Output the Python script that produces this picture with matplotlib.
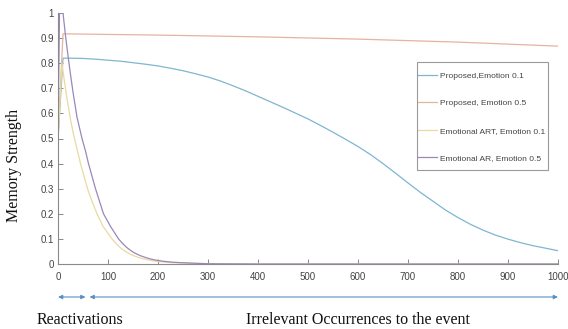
import matplotlib
matplotlib.use("Agg")
import matplotlib.pyplot as plt
from matplotlib.patches import Rectangle

# ---- data ----
t_prop01 = [0, 10, 25, 50, 75, 100, 125, 150, 175, 200, 225, 250, 275, 300, 325,
            350, 375, 400, 425, 450, 475, 500, 525, 550, 575, 600, 625, 650, 675,
            700, 725, 750, 775, 800, 825, 850, 875, 900, 925, 950, 975, 1000]
v_prop01 = [0.5, 0.82, 0.82, 0.819, 0.816, 0.812, 0.808, 0.802, 0.796, 0.789, 0.78,
            0.77, 0.758, 0.745, 0.729, 0.71, 0.69, 0.668, 0.646, 0.624, 0.601,
            0.578, 0.552, 0.525, 0.497, 0.468, 0.436, 0.40, 0.362, 0.323, 0.285,
            0.25, 0.215, 0.185, 0.158, 0.135, 0.115, 0.099, 0.085, 0.073, 0.063, 0.053]

t_prop05 = [0, 10, 200, 400, 600, 800, 1000]
v_prop05 = [0.5, 0.917, 0.912, 0.905, 0.896, 0.884, 0.868]

t_art01 = [0, 8, 12, 16, 20, 25, 29, 33, 39, 45, 52, 59, 68, 78, 84, 90, 99, 108,
           116, 124, 132, 141, 150, 160, 170, 181, 195, 210, 230, 250, 275, 300, 400, 1000]
v_art01 = [0.5, 0.8, 0.74, 0.685, 0.635, 0.576, 0.535, 0.5, 0.45, 0.4, 0.35, 0.3,
           0.25, 0.2, 0.175, 0.15, 0.125, 0.1, 0.082, 0.066, 0.054, 0.043, 0.034,
           0.027, 0.021, 0.016, 0.011, 0.008, 0.005, 0.004, 0.002, 0.001, 0.0, 0.0]

t_ar05 = [0, 3, 10, 15, 20, 25, 30, 38, 48, 55, 61, 68, 75, 83, 91, 98, 105, 113,
          121, 130, 138, 146, 154, 165, 175, 185, 194, 210, 230, 250, 275, 300, 400, 1000]
v_ar05 = [0.5, 1.0, 1.0, 0.91, 0.83, 0.755, 0.685, 0.585, 0.5, 0.45, 0.4, 0.35, 0.3,
          0.25, 0.2, 0.175, 0.15, 0.125, 0.1, 0.08, 0.065, 0.053, 0.043, 0.033,
          0.026, 0.02, 0.016, 0.011, 0.007, 0.005, 0.003, 0.001, 0.0, 0.0]

labels = ["Proposed,Emotion 0.1", "Proposed, Emotion 0.5",
          "Emotional ART, Emotion 0.1", "Emotional AR, Emotion 0.5"]
colors = ["#7fb6d0", "#e6b39f", "#ead9a0", "#9a88b8"]

xticks = list(range(0, 1001, 100))
yticks = [i / 10 for i in range(11)]
yticklabels = ["0", "0.1", "0.2", "0.3", "0.4", "0.5", "0.6", "0.7", "0.8", "0.9", "1"]

serif = ["Liberation Serif", "DejaVu Serif"]
sans = ["Liberation Sans", "DejaVu Sans"]

fig = plt.figure(figsize=(5.68, 3.29), dpi=100)
W, H = 568, 329
ax = fig.add_axes([58 / W, 1 - 264 / H, 500 / W, 251 / H])

series = [(t_prop01, v_prop01), (t_prop05, v_prop05), (t_art01, v_art01), (t_ar05, v_ar05)]
for (t, v), c, lab in zip(series, colors, labels):
    ax.plot(t, v, color=c, lw=0.9, label=lab)

ax.set_xlim(0, 1000)
ax.set_ylim(0, 1)
ax.set_xticks(xticks)
ax.set_yticks(yticks)
ax.set_yticklabels(yticklabels)
for s in ["top", "right"]:
    ax.spines[s].set_visible(False)
for s in ["left", "bottom"]:
    ax.spines[s].set_color("#8a8a8a")
    ax.spines[s].set_linewidth(0.8)
ax.tick_params(direction="in", length=3.5, width=0.7, color="#8a8a8a",
               labelsize=7, labelcolor="#444444", pad=3)
ax.tick_params(axis="x", pad=5.5)
for lbl in ax.get_xticklabels() + ax.get_yticklabels():
    lbl.set_family(sans)

leg = ax.legend(loc="upper left", bbox_to_anchor=(418 / W, 1 - 72 / H),
                bbox_transform=fig.transFigure, frameon=False,
                prop={"family": sans, "size": 6}, handlelength=2.3,
                handletextpad=0.3, labelspacing=2.35, borderpad=0.0,
                borderaxespad=0.0)
for txt in leg.get_texts():
    txt.set_color("#444444")
fig.add_artist(Rectangle((417 / W, 1 - 170 / H), 131 / W, 108 / H,
                         transform=fig.transFigure, fill=False,
                         edgecolor="#9a9a9a", lw=0.8))

fig.text(14 / W, 1 - 165 / H, "Memory Strength", rotation=90, ha="center",
         va="center", family=serif, size=11.5, color="#111111")

# bottom annotation arrows
arrow_y = 1 - 297 / H
arrow_kw = dict(arrowstyle="<|-|>,head_length=0.25,head_width=0.12",
                color="#5b8fc2", lw=0.8, shrinkA=0, shrinkB=0)
ax.annotate("", xy=(55, arrow_y), xytext=(0, arrow_y),
            xycoords=("data", "figure fraction"),
            textcoords=("data", "figure fraction"),
            arrowprops=arrow_kw, annotation_clip=False)
ax.annotate("", xy=(1000, arrow_y), xytext=(63, arrow_y),
            xycoords=("data", "figure fraction"),
            textcoords=("data", "figure fraction"),
            arrowprops=arrow_kw, annotation_clip=False)

fig.text(80 / W, 1 - 320 / H, "Reactivations", ha="center", va="center",
         family=serif, size=11.5, color="#111111")
fig.text(358 / W, 1 - 320 / H, "Irrelevant Occurrences to the event",
         ha="center", va="center", family=serif, size=11.5, color="#111111")

fig.savefig("out.png", dpi=100)
